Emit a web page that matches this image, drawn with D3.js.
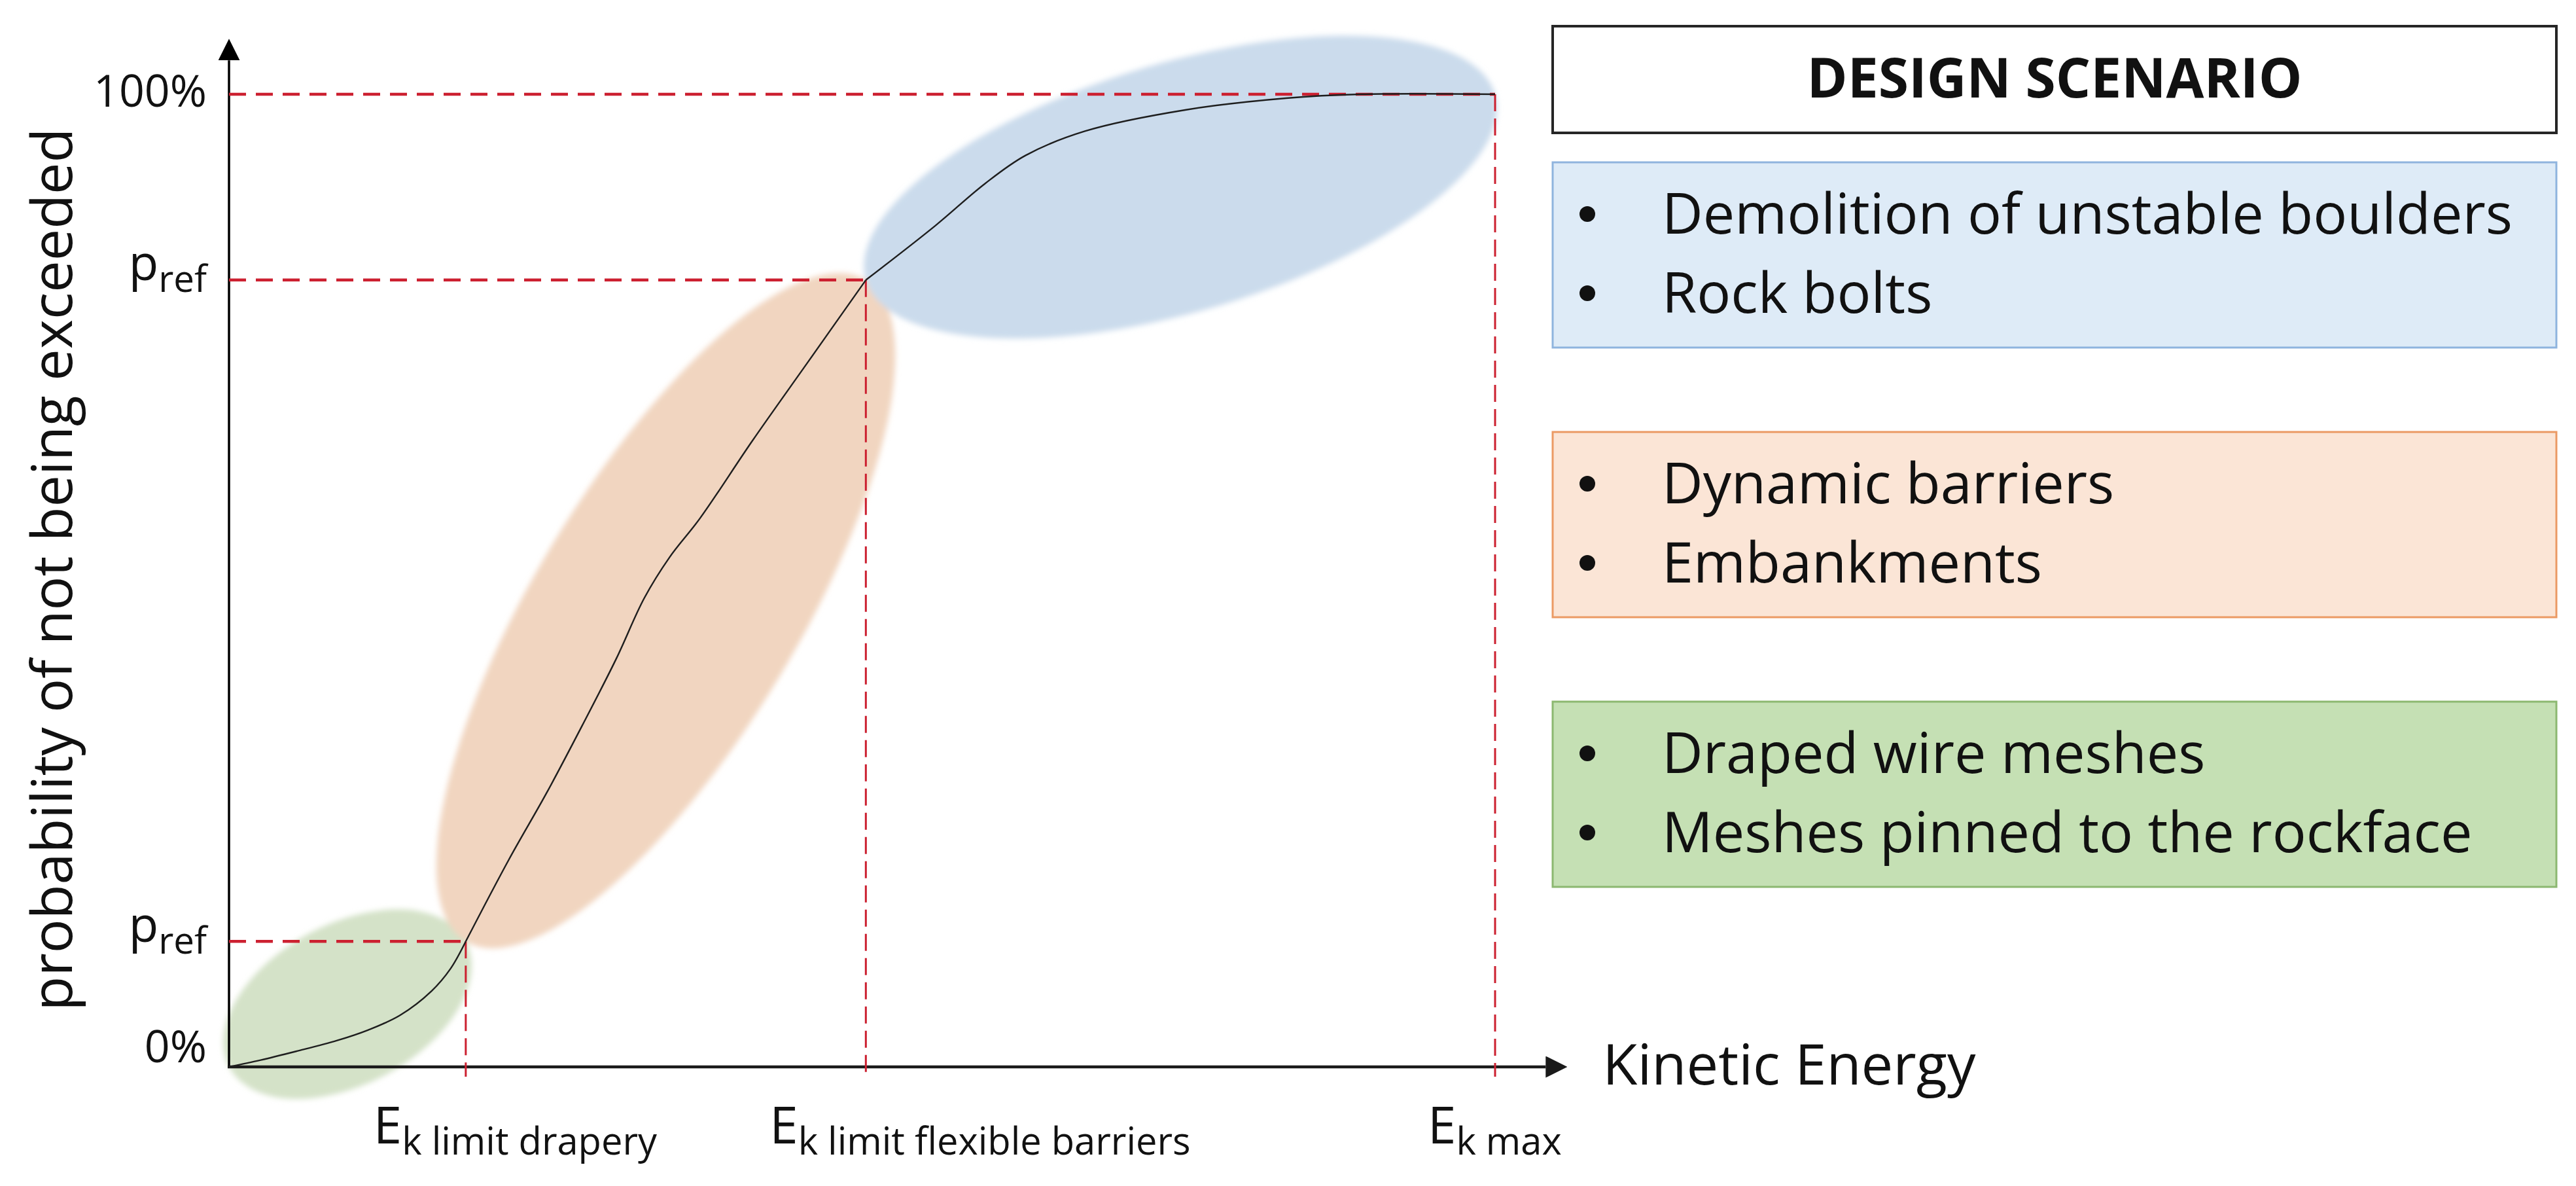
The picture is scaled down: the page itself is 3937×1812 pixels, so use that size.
<!DOCTYPE html>
<html>
<head>
<meta charset="utf-8">
<script src="https://cdn.jsdelivr.net/npm/d3@7"></script>
<style>
  html, body { margin: 0; padding: 0; background: #fff; }
  svg { display: block; }
</style>
</head>
<body>
<div id="vis"></div>
<script>
// ************************** DATA **************************//
// energy in % of Ek max, probability of not being exceeded in %
var greenCurve = [[0, 0], [2.5, 0.7], [5.3, 1.6], [8.5, 2.7], [11, 3.8], [13.5, 5.3], [16, 7.8], [17.5, 10.1], [18.7, 12.9]];
var orangeCurve = [[18.7, 12.9], [22.1, 21.3], [25.1, 28.2], [27.9, 35.1], [30.6, 42.0], [32.8, 48.2], [34.8, 52.4], [37.2, 56.4], [41.3, 64.3], [45.8, 72.6], [50.3, 80.9]];
var blueCurve = [[50.3, 80.9], [55.8, 86.5], [59.7, 90.8], [62.9, 93.7], [67.6, 96.2], [75.6, 98.4], [83.5, 99.6], [89.4, 100], [100, 100]];

var thresholdEnergy = [18.7, 50.3, 100];
var thresholdProb = [12.9, 80.9, 100];
var thresholdSubs = ["k limit drapery", "k limit flexible barriers", "k max"];

var yTickValues = [0, 12.9, 80.9, 100];
var yTickLabels = [["0%"], ["p", "ref"], ["p", "ref"], ["100%"]];

var yTitle = "probability of not being exceeded";
var xTitle = "Kinetic Energy";

var legendTitle = "DESIGN SCENARIO";
// top to bottom in the legend
var scenarioItems = [
  ["Demolition of unstable boulders", "Rock bolts"],
  ["Dynamic barriers", "Embankments"],
  ["Draped wire meshes", "Meshes pinned to the rockface"]
];

// ************************** STYLES / LAYOUT **************************//
var W = 3937, H = 1812;
var font = "'Open Sans', 'Noto Sans', sans-serif";
var zoneFill = ["#d4e2c8", "#f1d5c0", "#cbdbec"];     // curve order: green, orange, blue
var zoneRatio = [0.6, 0.34, 0.38];                    // minor / major half axis
var boxFill = ["#deebf7", "#fbe5d6", "#c5e0b4"];      // legend order
var boxStroke = ["#8fb4de", "#eb9a64", "#8cb870"];
var red = "#cc2030";
var overshoot = 105.7;

var x = d3.scaleLinear().domain([0, 100]).range([350, 2285]);
var y = d3.scaleLinear().domain([0, 100]).range([1630, 144]);

var svg = d3.select("#vis").append("svg")
  .attr("width", W).attr("height", H)
  .attr("font-family", font);

var defs = svg.append("defs");
defs.append("filter").attr("id", "soft")
  .append("feGaussianBlur").attr("stdDeviation", 4);

function arrow(id, color, len) {
  defs.append("marker")
    .attr("id", id)
    .attr("viewBox", "0 0 10 10")
    .attr("refX", 0).attr("refY", 5)
    .attr("markerUnits", "userSpaceOnUse")
    .attr("markerWidth", len).attr("markerHeight", len)
    .attr("orient", "auto")
    .append("path").attr("d", "M0,0L10,5L0,10z").attr("fill", color);
}
arrow("arrY", "#000", 33);
arrow("arrX", "#1a1a1a", 33);

function fitWidth(t, target) {
  var fs = parseFloat(t.attr("font-size"));
  var w = t.node().getBBox().width;
  t.attr("font-size", fs * target / w);
}

// ************************** ZONES **************************//
var segments = [greenCurve, orangeCurve, blueCurve];

svg.append("g").attr("filter", "url(#soft)")
  .selectAll("ellipse")
  .data(segments)
  .join("ellipse")
  .each(function(seg, i) {
    var p0 = seg[0], p1 = seg[seg.length - 1];
    var x0 = x(p0[0]), y0 = y(p0[1]), x1 = x(p1[0]), y1 = y(p1[1]);
    var a = Math.hypot(x1 - x0, y1 - y0) / 2;
    var ang = Math.atan2(y1 - y0, x1 - x0) * 180 / Math.PI;
    d3.select(this)
      .attr("rx", a).attr("ry", a * zoneRatio[i])
      .attr("transform", `translate(${(x0 + x1) / 2},${(y0 + y1) / 2}) rotate(${ang})`)
      .attr("fill", zoneFill[i]);
  });

// ************************** AXES **************************//
svg.append("line")
  .attr("x1", x(0)).attr("y1", y(0))
  .attr("x2", x(0)).attr("y2", y(overshoot) + 33)
  .attr("stroke", "#000").attr("stroke-width", 3.5)
  .attr("marker-end", "url(#arrY)");

svg.append("line")
  .attr("x1", x(0) - 2).attr("y1", y(0))
  .attr("x2", x(overshoot) - 33).attr("y2", y(0))
  .attr("stroke", "#1a1a1a").attr("stroke-width", 4.5)
  .attr("marker-end", "url(#arrX)");

// ************************** GUIDES **************************//
var guides = svg.append("g").attr("stroke", red).attr("fill", "none");

guides.selectAll(".h")
  .data(thresholdEnergy)
  .join("line")
  .attr("x1", x(0)).attr("x2", d => x(d))
  .attr("y1", (d, i) => y(thresholdProb[i])).attr("y2", (d, i) => y(thresholdProb[i]))
  .attr("stroke-width", 4.5).attr("stroke-dasharray", "26,15");

guides.selectAll(".v")
  .data(thresholdEnergy)
  .join("line")
  .attr("x1", d => x(d)).attr("x2", d => x(d))
  .attr("y1", (d, i) => y(thresholdProb[i])).attr("y2", y(0) + 15)
  .attr("stroke-width", 3).attr("stroke-dasharray", "26,11");

// ************************** CURVE **************************//
var line = d3.line()
  .x(d => x(d[0])).y(d => y(d[1]))
  .curve(d3.curveCatmullRom.alpha(0.5));

svg.append("g").selectAll("path")
  .data(segments)
  .join("path")
  .attr("d", line)
  .attr("fill", "none").attr("stroke", "#1e1e1e").attr("stroke-width", 2.4);

// ************************** LABELS **************************//
var yAxis = svg.append("g")
  .attr("transform", `translate(${x(0)},0)`)
  .call(d3.axisLeft(y).tickValues(yTickValues).tickSize(0).tickPadding(34))
  .call(g => g.select(".domain").remove())
  .attr("font-family", font).attr("font-size", 72);

yAxis.selectAll(".tick text")
  .attr("fill", "#111")
  .attr("font-size", 72)
  .each(function(d, i) {
    var t = d3.select(this).text(null);
    var lab = yTickLabels[i];
    t.append("tspan").text(lab[0]);
    if (lab.length > 1) {
      t.attr("dy", "0em");
      t.append("tspan").style("font-size", "0.76em").attr("dy", "0.32em").text(lab[1]);
      fitWidth(t, 122);
    } else {
      t.attr("dy", d === 0 ? "-0.11em" : "0.27em");
    }
  });
var pct = yAxis.selectAll(".tick text").filter((d, i) => yTickLabels[i].length === 1);
var pctFs = 72 * 173 / pct.filter(d => d === 100).node().getBBox().width;
pct.attr("font-size", pctFs);

var yLab = svg.append("text")
  .attr("transform", "translate(110,870) rotate(-90)")
  .attr("text-anchor", "middle")
  .attr("font-size", 90).attr("fill", "#111")
  .text(yTitle);
fitWidth(yLab, 1349);

// energy labels
var energyShift = [-141, -147, -103];
var energyTarget = [436, 649, 197];
var eLabels = svg.append("g").selectAll("text")
  .data(thresholdSubs)
  .join("text")
  .attr("x", (d, i) => x(thresholdEnergy[i]) + energyShift[i])
  .attr("y", 1747)
  .attr("font-size", 76).attr("fill", "#111");
eLabels.append("tspan").text("E");
eLabels.append("tspan").style("font-size", "0.74em").attr("dy", "0.3em").text(d => d);
var eCur = 0;
eLabels.each(function() { eCur += this.getBBox().width; });
eLabels.attr("font-size", 76 * d3.sum(energyTarget) / eCur);

var xLab = svg.append("text")
  .attr("x", x(overshoot) + 54).attr("y", 1657)
  .attr("font-size", 90).attr("fill", "#111")
  .text(xTitle);
fitWidth(xLab, 571);

// ************************** LEGEND **************************//
var lx = 2373, lw = 1534;
var legend = svg.append("g");

legend.append("rect")
  .attr("x", lx).attr("y", 40).attr("width", lw).attr("height", 163)
  .attr("fill", "#fff").attr("stroke", "#262626").attr("stroke-width", 4);

var title = legend.append("text")
  .attr("x", lx + lw / 2).attr("y", 149)
  .attr("text-anchor", "middle")
  .attr("font-size", 88).attr("font-weight", "bold").attr("fill", "#111")
  .text(legendTitle);
fitWidth(title, 757);

var boxes = legend.selectAll(".box")
  .data(scenarioItems)
  .join("g")
  .attr("class", "box")
  .attr("transform", (d, i) => `translate(0,${248 + i * 412})`);

boxes.append("rect")
  .attr("x", lx).attr("y", 0).attr("width", lw).attr("height", 283)
  .attr("fill", (d, i) => boxFill[i])
  .attr("stroke", (d, i) => boxStroke[i]).attr("stroke-width", 3);

boxes.selectAll("circle")
  .data(d => d)
  .join("circle")
  .attr("cx", 2426).attr("cy", (d, j) => 79 + j * 121).attr("r", 12)
  .attr("fill", "#111");

var items = boxes.selectAll("text")
  .data(d => d)
  .join("text")
  .attr("x", 2540).attr("y", (d, j) => 109 + j * 121)
  .attr("font-size", 88).attr("fill", "#111")
  .text(d => d);

var itemTarget = [1310, 412, 684, 579, 823, 1247];
var itemCur = 0;
items.each(function() { itemCur += this.getBBox().width; });
items.attr("font-size", 88 * d3.sum(itemTarget) / itemCur);
</script>
</body>
</html>
